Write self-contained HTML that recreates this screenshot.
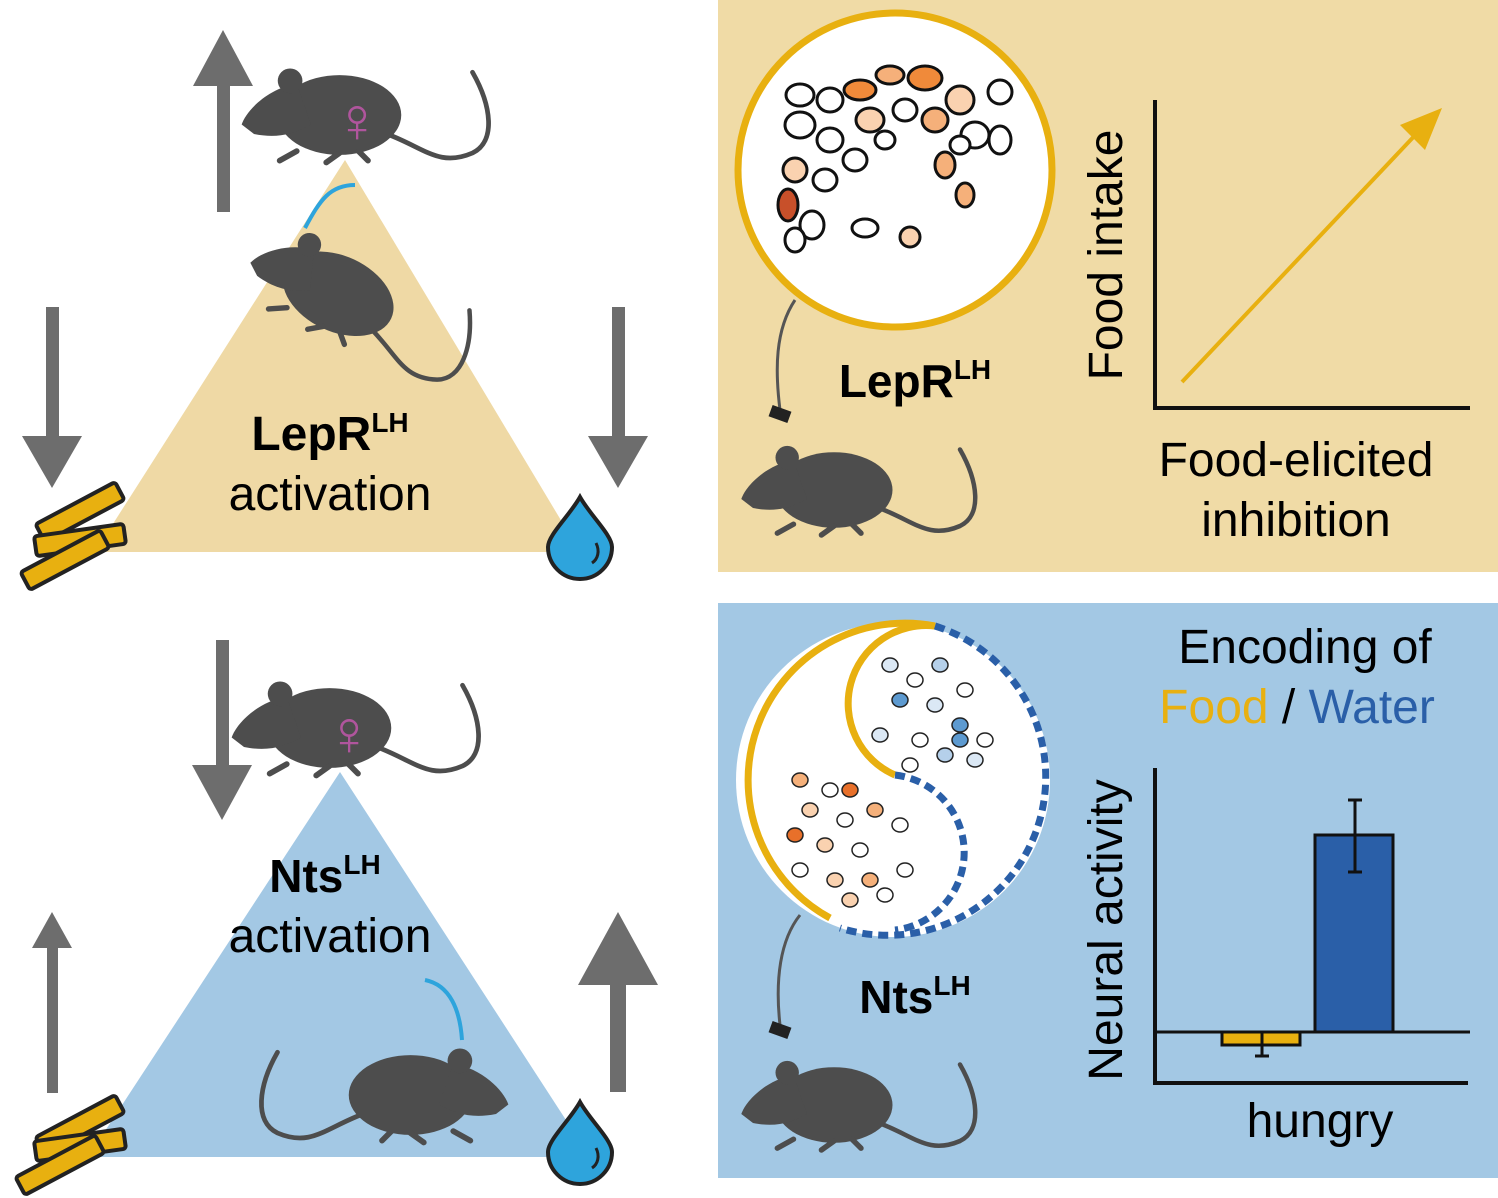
<!DOCTYPE html>
<html><head><meta charset="utf-8"><style>
html,body{margin:0;padding:0;background:#fff}
svg{display:block}
text{font-family:"Liberation Sans",sans-serif}
</style></head><body>
<svg width="1498" height="1198" viewBox="0 0 1498 1198" xmlns="http://www.w3.org/2000/svg">
<defs>
<g id="mouse">
  <path d="M60,20 C100,35 115,55 150,40 C175,28 170,-10 150,-45" fill="none" stroke="#4d4d4d" stroke-width="5" stroke-linecap="round"/>
  <ellipse cx="10" cy="0" rx="65" ry="42" fill="#4d4d4d"/>
  <path d="M-35,-33 C-65,-28 -88,-5 -93,10 L-80,20 C-55,25 -38,20 -20,10 Z" fill="#4d4d4d"/>
  <ellipse cx="-42" cy="-36" rx="13" ry="13" fill="#4d4d4d"/>
  <path d="M-35,38 l-18,10 M10,40 l-14,10 M30,38 l10,10" stroke="#4d4d4d" stroke-width="6" stroke-linecap="round"/>
</g>
<g id="food">
  <rect x="-45" y="-10" width="90" height="20" rx="3" fill="#e8b010" stroke="#222" stroke-width="4"/>
</g>
<g id="drop">
  <path d="M0,-38 C10,-20 32,0 32,12 A32,32 0 0 1 -32,12 C-32,0 -10,-20 0,-38 Z" fill="#2ea4dc" stroke="#222" stroke-width="4"/>
  <path d="M16,8 C20,16 18,24 12,28" fill="none" stroke="#222" stroke-width="3"/>
</g>
</defs>

<!-- Top-left triangle -->
<polygon points="345,160 95,552 580,552" fill="#efd9a5"/>
<g fill="#6d6d6d">
  <rect x="217" y="82" width="13" height="130"/><polygon points="193,86 253,86 223,30"/>
  <rect x="46" y="307" width="13" height="135"/><polygon points="22,436 82,436 52,488"/>
  <rect x="612" y="307" width="13" height="135"/><polygon points="588,436 648,436 618,488"/>
</g>
<g transform="translate(330,115) scale(0.95)"><use href="#mouse"/></g>
<text x="357" y="142" font-size="64" font-weight="bold" fill="#b0559d" text-anchor="middle">♀</text>
<path d="M305,228 C320,200 330,185 355,185" fill="none" stroke="#2ea4dc" stroke-width="4"/>
<g transform="translate(330,290) rotate(25) scale(0.9)"><use href="#mouse"/></g>
<text x="330" y="450" font-size="48" font-weight="bold" text-anchor="middle">LepR<tspan font-size="28" dy="-18">LH</tspan></text>
<text x="330" y="510" font-size="48" text-anchor="middle">activation</text>
<g transform="translate(80,512) rotate(-28)"><use href="#food"/></g>
<g transform="translate(80,540) rotate(-8)"><use href="#food"/></g>
<g transform="translate(65,560) rotate(-28)"><use href="#food"/></g>
<g transform="translate(580,535)"><use href="#drop"/></g>

<!-- Top-right panel -->
<rect x="718" y="0" width="780" height="572" fill="#f0dba6"/>
<circle cx="895" cy="170" r="157" fill="#fff" stroke="#e8b010" stroke-width="7"/>
<g stroke="#111" stroke-width="3">
  <ellipse cx="800" cy="95" rx="14" ry="11" fill="#fff"/><ellipse cx="830" cy="100" rx="13" ry="12" fill="#fff"/>
  <ellipse cx="860" cy="90" rx="16" ry="10" fill="#f08a3a"/><ellipse cx="890" cy="75" rx="14" ry="9" fill="#f5b07a"/>
  <ellipse cx="925" cy="78" rx="17" ry="12" fill="#f08a3a"/><ellipse cx="960" cy="100" rx="14" ry="14" fill="#fad2b0"/>
  <ellipse cx="1000" cy="92" rx="12" ry="12" fill="#fff"/><ellipse cx="800" cy="125" rx="15" ry="13" fill="#fff"/>
  <ellipse cx="830" cy="140" rx="13" ry="12" fill="#fff"/><ellipse cx="870" cy="120" rx="14" ry="12" fill="#fad2b0"/>
  <ellipse cx="905" cy="110" rx="12" ry="11" fill="#fff"/><ellipse cx="935" cy="120" rx="13" ry="12" fill="#f5b07a"/>
  <ellipse cx="975" cy="135" rx="14" ry="13" fill="#fff"/><ellipse cx="1000" cy="140" rx="11" ry="14" fill="#fff"/>
  <ellipse cx="855" cy="160" rx="12" ry="11" fill="#fff"/><ellipse cx="885" cy="140" rx="10" ry="9" fill="#fff"/>
  <ellipse cx="945" cy="165" rx="10" ry="13" fill="#f5b07a"/><ellipse cx="795" cy="170" rx="12" ry="12" fill="#fad2b0"/>
  <ellipse cx="825" cy="180" rx="12" ry="11" fill="#fff"/><ellipse cx="788" cy="205" rx="10" ry="16" fill="#c8502a"/>
  <ellipse cx="812" cy="225" rx="12" ry="14" fill="#fff"/><ellipse cx="795" cy="240" rx="10" ry="12" fill="#fff"/>
  <ellipse cx="865" cy="228" rx="13" ry="9" fill="#fff"/><ellipse cx="910" cy="237" rx="10" ry="10" fill="#fad2b0"/>
  <ellipse cx="965" cy="195" rx="9" ry="12" fill="#f5b07a"/><ellipse cx="960" cy="145" rx="10" ry="9" fill="#fff"/>
</g>
<path d="M795,300 C775,330 775,370 780,410" fill="none" stroke="#555" stroke-width="3"/>
<rect x="770" y="408" width="20" height="12" fill="#222" transform="rotate(20 780 414)"/>
<g transform="translate(825,490) scale(0.9)"><use href="#mouse"/></g>
<text x="915" y="397" font-size="46" font-weight="bold" text-anchor="middle">LepR<tspan font-size="28" dy="-18">LH</tspan></text>
<path d="M1155,100 V408 H1470" fill="none" stroke="#111" stroke-width="4"/>
<line x1="1182" y1="382" x2="1420" y2="130" stroke="#e8b010" stroke-width="4"/>
<polygon points="1442,108 1400,125 1425,150" fill="#e8b010"/>
<text transform="translate(1122,255) rotate(-90)" font-size="48" text-anchor="middle">Food intake</text>
<text x="1296" y="476" font-size="48" text-anchor="middle">Food-elicited</text>
<text x="1296" y="536" font-size="48" text-anchor="middle">inhibition</text>

<!-- Bottom-left triangle -->
<polygon points="340,772 88,1157 590,1157" fill="#a3c8e4"/>
<g fill="#6d6d6d">
  <rect x="216" y="640" width="13" height="130"/><polygon points="192,765 252,765 222,820"/>
  <rect x="47" y="945" width="11" height="148"/><polygon points="32,948 72,948 52,912"/>
  <rect x="610" y="982" width="16" height="110"/><polygon points="578,985 658,985 618,912"/>
</g>
<g transform="translate(320,728) scale(0.95)"><use href="#mouse"/></g>
<text x="349" y="755" font-size="64" font-weight="bold" fill="#b0559d" text-anchor="middle">♀</text>
<text x="325" y="892" font-size="46" font-weight="bold" text-anchor="middle">Nts<tspan font-size="28" dy="-18">LH</tspan></text>
<text x="330" y="952" font-size="48" text-anchor="middle">activation</text>
<path d="M425,980 C450,985 460,1010 462,1040" fill="none" stroke="#2ea4dc" stroke-width="4"/>
<g transform="translate(420,1095) scale(-0.95,0.95)"><use href="#mouse"/></g>
<g transform="translate(80,1125) rotate(-28)"><use href="#food"/></g>
<g transform="translate(80,1145) rotate(-8)"><use href="#food"/></g>
<g transform="translate(60,1165) rotate(-28)"><use href="#food"/></g>
<g transform="translate(580,1140)"><use href="#drop"/></g>

<!-- Bottom-right panel -->
<rect x="718" y="603" width="780" height="575" fill="#a3c8e4"/>
<circle cx="893" cy="780" r="157" fill="#fff"/>
<path d="M935,626 A157,157 0 0 0 830,918" fill="none" stroke="#e8b010" stroke-width="7"/>
<path d="M935,626 A78,78 0 0 0 895,775" fill="none" stroke="#e8b010" stroke-width="7"/>
<path d="M935,626 A157,157 0 0 1 840,928" fill="none" stroke="#2a5fa8" stroke-width="7" stroke-dasharray="10,6"/>
<path d="M895,775 A78,78 0 0 1 895,930" fill="none" stroke="#2a5fa8" stroke-width="7" stroke-dasharray="10,6"/>
<g stroke="#222" stroke-width="1.5">
  <ellipse cx="890" cy="665" rx="8" ry="7" fill="#dbe8f5"/><ellipse cx="915" cy="680" rx="8" ry="7" fill="#fff"/>
  <ellipse cx="940" cy="665" rx="8" ry="7" fill="#b5d0ea"/><ellipse cx="900" cy="700" rx="8" ry="7" fill="#5d9ad0"/>
  <ellipse cx="935" cy="705" rx="8" ry="7" fill="#dbe8f5"/><ellipse cx="965" cy="690" rx="8" ry="7" fill="#fff"/>
  <ellipse cx="880" cy="735" rx="8" ry="7" fill="#dbe8f5"/><ellipse cx="920" cy="740" rx="8" ry="7" fill="#fff"/>
  <ellipse cx="960" cy="725" rx="8" ry="7" fill="#5d9ad0"/><ellipse cx="985" cy="740" rx="8" ry="7" fill="#fff"/>
  <ellipse cx="945" cy="755" rx="8" ry="7" fill="#b5d0ea"/><ellipse cx="975" cy="760" rx="8" ry="7" fill="#dbe8f5"/>
  <ellipse cx="910" cy="765" rx="8" ry="7" fill="#fff"/><ellipse cx="960" cy="740" rx="8" ry="7" fill="#5d9ad0"/>
  <ellipse cx="800" cy="780" rx="8" ry="7" fill="#f5b07a"/><ellipse cx="830" cy="790" rx="8" ry="7" fill="#fff"/>
  <ellipse cx="850" cy="790" rx="8" ry="7" fill="#e8702a"/><ellipse cx="810" cy="810" rx="8" ry="7" fill="#fad2b0"/>
  <ellipse cx="845" cy="820" rx="8" ry="7" fill="#fff"/><ellipse cx="875" cy="810" rx="8" ry="7" fill="#f5b07a"/>
  <ellipse cx="795" cy="835" rx="8" ry="7" fill="#e8702a"/><ellipse cx="825" cy="845" rx="8" ry="7" fill="#fad2b0"/>
  <ellipse cx="860" cy="850" rx="8" ry="7" fill="#fff"/><ellipse cx="900" cy="825" rx="8" ry="7" fill="#fff"/>
  <ellipse cx="800" cy="870" rx="8" ry="7" fill="#fff"/><ellipse cx="835" cy="880" rx="8" ry="7" fill="#fad2b0"/>
  <ellipse cx="870" cy="880" rx="8" ry="7" fill="#f5b07a"/><ellipse cx="905" cy="870" rx="8" ry="7" fill="#fff"/>
  <ellipse cx="850" cy="900" rx="8" ry="7" fill="#fad2b0"/><ellipse cx="885" cy="895" rx="8" ry="7" fill="#fff"/>
</g>
<path d="M800,915 C780,940 775,980 780,1025" fill="none" stroke="#555" stroke-width="3"/>
<rect x="770" y="1024" width="20" height="12" fill="#222" transform="rotate(20 780 1030)"/>
<g transform="translate(825,1105) scale(0.9)"><use href="#mouse"/></g>
<text x="915" y="1013" font-size="46" font-weight="bold" text-anchor="middle">Nts<tspan font-size="28" dy="-18">LH</tspan></text>
<text x="1305" y="663" font-size="48" text-anchor="middle">Encoding of</text>
<text x="1297" y="723" font-size="48" text-anchor="middle"><tspan fill="#e8b010">Food</tspan> / <tspan fill="#2a5fa8">Water</tspan></text>
<text transform="translate(1122,930) rotate(-90)" font-size="48" text-anchor="middle">Neural activity</text>
<path d="M1155,768 V1083 H1468" fill="none" stroke="#111" stroke-width="4"/>
<rect x="1222" y="1032" width="78" height="13" fill="#e8b010" stroke="#111" stroke-width="3"/>
<rect x="1315" y="835" width="78" height="197" fill="#2a5fa8" stroke="#111" stroke-width="3"/>
<line x1="1155" y1="1032" x2="1470" y2="1032" stroke="#111" stroke-width="3"/>
<path d="M1262,1032 V1056 M1255,1056 H1269 M1355,835 V800 M1348,800 H1362 M1355,835 V872 M1348,872 H1362" stroke="#111" stroke-width="3"/>
<text x="1320" y="1137" font-size="48" text-anchor="middle">hungry</text>
</svg>
</body></html>
